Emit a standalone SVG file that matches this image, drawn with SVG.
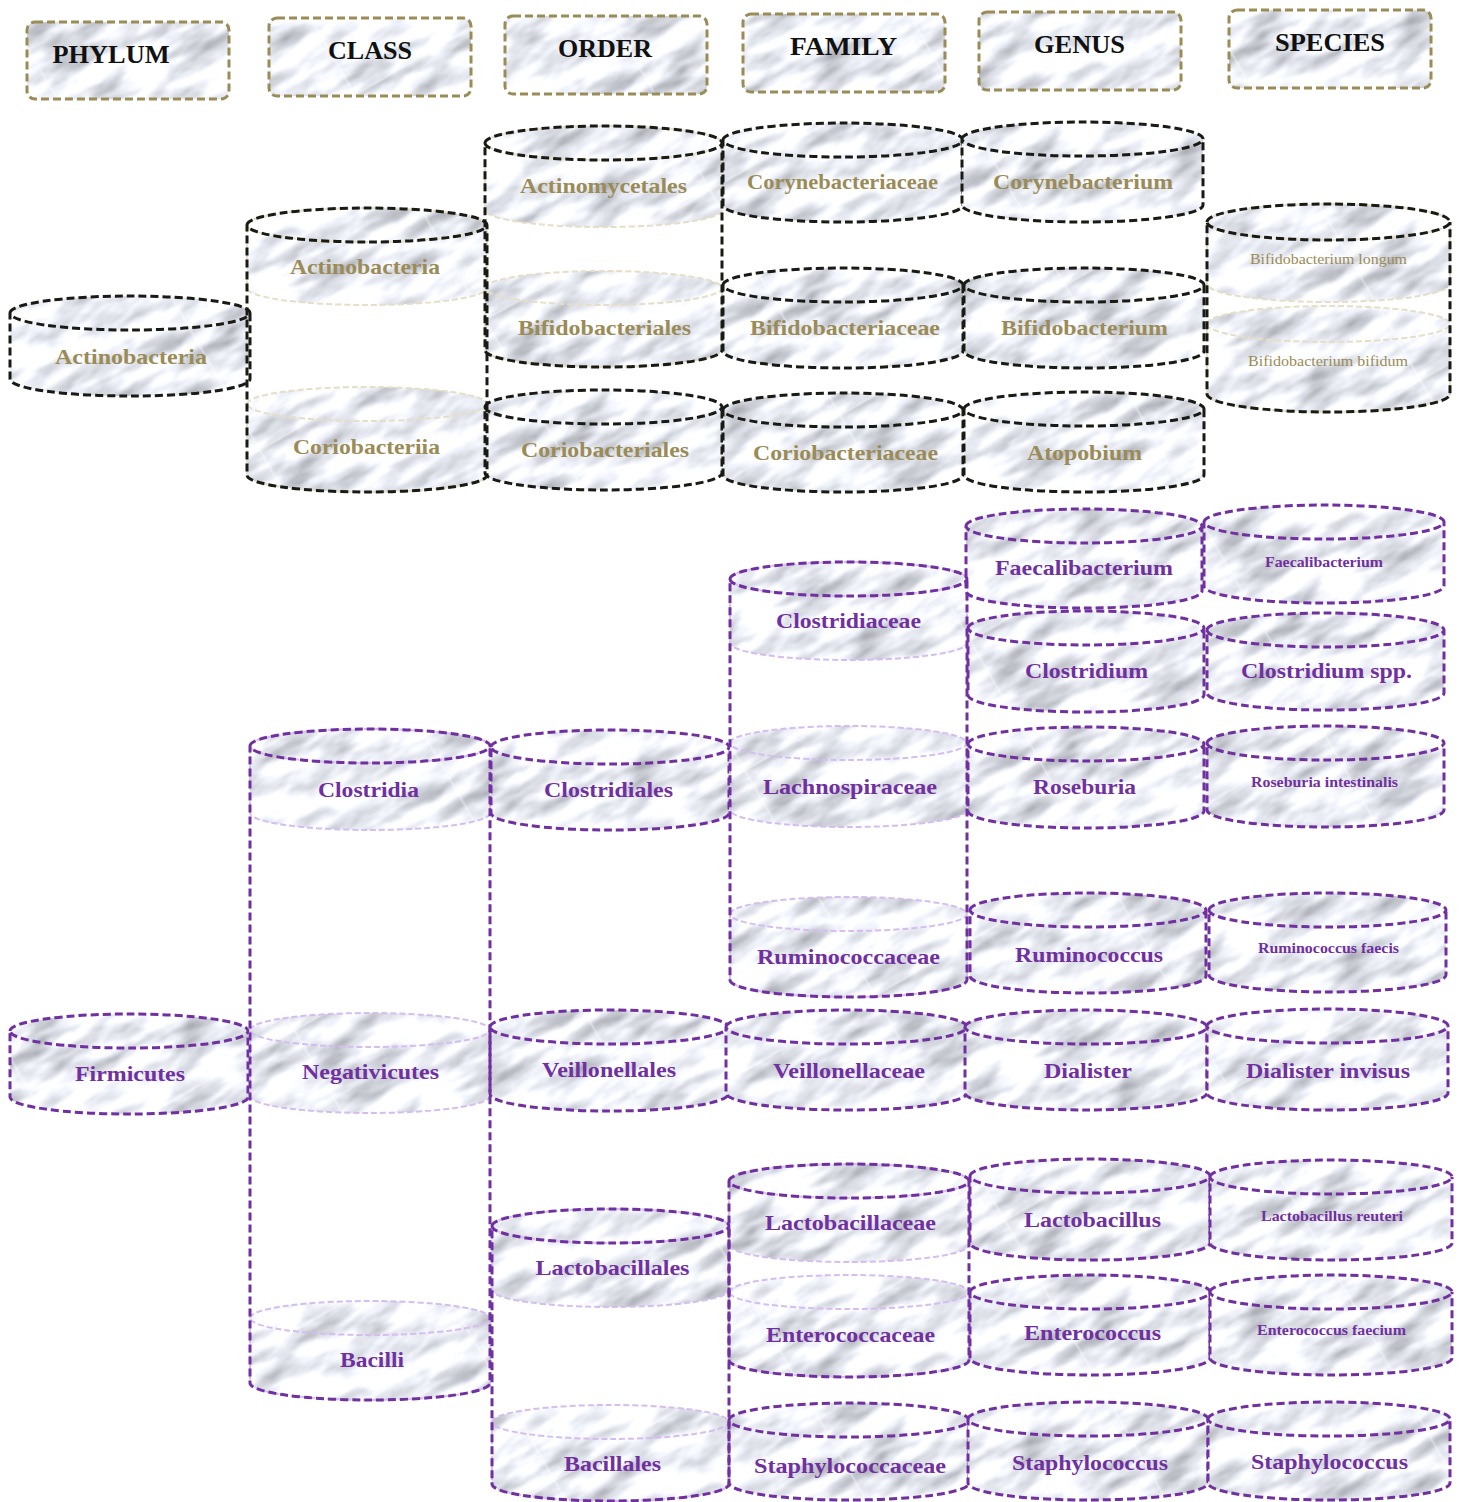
<svg xmlns="http://www.w3.org/2000/svg" width="1460" height="1502" viewBox="0 0 1460 1502">
<defs>
<filter id="mtx" filterUnits="userSpaceOnUse" x="0" y="0" width="260" height="260" color-interpolation-filters="sRGB">
<feTurbulence type="fractalNoise" baseFrequency="0.015 0.05" numOctaves="4" seed="7" stitchTiles="stitch"/>
<feColorMatrix type="matrix" values="-0.85 0 0 0 1.36 -0.85 0 0 0 1.37 -0.85 0 0 0 1.40 0 0 0 0 1"/>
<feGaussianBlur stdDeviation="0.8"/>
</filter>
<pattern id="marble" patternUnits="userSpaceOnUse" width="260" height="260" patternTransform="rotate(-30)">
<rect width="260" height="260" fill="#e9eaed" filter="url(#mtx)"/>
</pattern>
<style>
.body{fill:url(#marble);stroke:none}
.dk{fill:none;stroke:#1a1a14;stroke-width:3;stroke-dasharray:8 4}
.lb{fill:none;stroke:#e6dec6;stroke-width:2;stroke-dasharray:6 3}
.dp{fill:none;stroke:#7030a0;stroke-width:3;stroke-dasharray:8 4}
.lp{fill:none;stroke:#d6bdf0;stroke-width:2;stroke-dasharray:6 3}
.hb{fill:url(#marble);stroke:#9a8c56;stroke-width:3;stroke-dasharray:8 4}
text{font-family:"Liberation Serif","Times New Roman",serif;text-anchor:middle;font-weight:bold}
.hd{fill:#111;font-size:26px}
.ol{fill:#9a8b57;font-size:22px}
.pu{fill:#7030a0;font-size:22px}
.ols{fill:#9a8b57;font-size:15px;font-weight:normal}
.pus{fill:#7030a0;font-size:15px}
</style>
</defs>
<rect width="1460" height="1502" fill="#fff"/>

<g id="headers">
<g id="h-phylum"><rect class="hb" x="27" y="22" width="202" height="77" rx="8"/><text class="hd" x="111" y="63" textLength="117" lengthAdjust="spacingAndGlyphs">PHYLUM</text></g>
<g id="h-class"><rect class="hb" x="269" y="18" width="202" height="78" rx="8"/><text class="hd" x="370" y="59" textLength="84" lengthAdjust="spacingAndGlyphs">CLASS</text></g>
<g id="h-order"><rect class="hb" x="505" y="16" width="202" height="78" rx="8"/><text class="hd" x="605" y="57" textLength="94" lengthAdjust="spacingAndGlyphs">ORDER</text></g>
<g id="h-family"><rect class="hb" x="743" y="14" width="202" height="78" rx="8"/><text class="hd" x="843.5" y="55" textLength="107" lengthAdjust="spacingAndGlyphs">FAMILY</text></g>
<g id="h-genus"><rect class="hb" x="979" y="12" width="202" height="78" rx="8"/><text class="hd" x="1079.5" y="53" textLength="91" lengthAdjust="spacingAndGlyphs">GENUS</text></g>
<g id="h-species"><rect class="hb" x="1229" y="10" width="202" height="78" rx="8"/><text class="hd" x="1330" y="51" textLength="110" lengthAdjust="spacingAndGlyphs">SPECIES</text></g>
</g>

<g id="nodes">
<!-- Actinobacteria branch -->
<g id="p-actinobacteria"><path class="body" d="M10 313A120 17 0 0 1 250 313V379A120 17 0 0 1 10 379Z"/><path class="dk" d="M10 313A120 17 0 0 1 250 313A120 17 0 0 1 10 313V379A120 17 0 0 0 250 379V313"/><text class="ol" x="131" y="364" textLength="152" lengthAdjust="spacingAndGlyphs">Actinobacteria</text></g>
<g id="c-actinobacteria"><path class="body" d="M247 225A120 17 0 0 1 487 225V288A120 17 0 0 1 247 288Z"/><path class="lb" d="M247 225A120 17 0 0 1 487 225A120 17 0 0 1 247 225V288A120 17 0 0 0 487 288V225"/><text class="ol" x="365" y="274" textLength="150" lengthAdjust="spacingAndGlyphs">Actinobacteria</text></g>
<g id="c-coriobacteriia"><path class="body" d="M247 404A120 17 0 0 1 487 404V475A120 17 0 0 1 247 475Z"/><path class="lb" d="M247 404A120 17 0 0 1 487 404A120 17 0 0 1 247 404V475A120 17 0 0 0 487 475V404"/><text class="ol" x="366.5" y="454" textLength="147" lengthAdjust="spacingAndGlyphs">Coriobacteriia</text></g>
<g id="o-actinomycetales"><path class="body" d="M485 143A118.5 17 0 0 1 722 143V210A118.5 17 0 0 1 485 210Z"/><path class="lb" d="M485 143A118.5 17 0 0 1 722 143A118.5 17 0 0 1 485 143V210A118.5 17 0 0 0 722 210V143"/><text class="ol" x="603.5" y="193" textLength="167" lengthAdjust="spacingAndGlyphs">Actinomycetales</text></g>
<g id="o-bifidobacteriales"><path class="body" d="M485 288A118.5 17 0 0 1 722 288V350A118.5 17 0 0 1 485 350Z"/><path class="lb" d="M485 288A118.5 17 0 0 1 722 288A118.5 17 0 0 1 485 288V350A118.5 17 0 0 0 722 350V288"/><text class="ol" x="604.5" y="335" textLength="173" lengthAdjust="spacingAndGlyphs">Bifidobacteriales</text></g>
<g id="o-coriobacteriales"><path class="body" d="M485 407A118.5 17 0 0 1 722 407V473A118.5 17 0 0 1 485 473Z"/><path class="dk" d="M485 407A118.5 17 0 0 1 722 407A118.5 17 0 0 1 485 407V473A118.5 17 0 0 0 722 473V407"/><text class="ol" x="605" y="457" textLength="168" lengthAdjust="spacingAndGlyphs">Coriobacteriales</text></g>
<g id="f-corynebacteriaceae"><path class="body" d="M723 140A120 17 0 0 1 963 140V205A120 17 0 0 1 723 205Z"/><path class="dk" d="M723 140A120 17 0 0 1 963 140A120 17 0 0 1 723 140V205A120 17 0 0 0 963 205V140"/><text class="ol" x="842.5" y="189" textLength="191" lengthAdjust="spacingAndGlyphs">Corynebacteriaceae</text></g>
<g id="f-bifidobacteriaceae"><path class="body" d="M723 285A120 17 0 0 1 963 285V351A120 17 0 0 1 723 351Z"/><path class="dk" d="M723 285A120 17 0 0 1 963 285A120 17 0 0 1 723 285V351A120 17 0 0 0 963 351V285"/><text class="ol" x="845" y="335" textLength="190" lengthAdjust="spacingAndGlyphs">Bifidobacteriaceae</text></g>
<g id="f-coriobacteriaceae"><path class="body" d="M723 410A120 17 0 0 1 963 410V475A120 17 0 0 1 723 475Z"/><path class="dk" d="M723 410A120 17 0 0 1 963 410A120 17 0 0 1 723 410V475A120 17 0 0 0 963 475V410"/><text class="ol" x="845.5" y="460" textLength="185" lengthAdjust="spacingAndGlyphs">Coriobacteriaceae</text></g>
<g id="g-corynebacterium"><path class="body" d="M962 139A120.5 17 0 0 1 1203 139V205A120.5 17 0 0 1 962 205Z"/><path class="dk" d="M962 139A120.5 17 0 0 1 1203 139A120.5 17 0 0 1 962 139V205A120.5 17 0 0 0 1203 205V139"/><text class="ol" x="1083" y="189" textLength="180" lengthAdjust="spacingAndGlyphs">Corynebacterium</text></g>
<g id="g-bifidobacterium"><path class="body" d="M964 285A120 17 0 0 1 1204 285V351A120 17 0 0 1 964 351Z"/><path class="dk" d="M964 285A120 17 0 0 1 1204 285A120 17 0 0 1 964 285V351A120 17 0 0 0 1204 351V285"/><text class="ol" x="1084.5" y="335" textLength="167" lengthAdjust="spacingAndGlyphs">Bifidobacterium</text></g>
<g id="g-atopobium"><path class="body" d="M964 409A120 17 0 0 1 1204 409V475A120 17 0 0 1 964 475Z"/><path class="dk" d="M964 409A120 17 0 0 1 1204 409A120 17 0 0 1 964 409V475A120 17 0 0 0 1204 475V409"/><text class="ol" x="1084.5" y="460" textLength="115" lengthAdjust="spacingAndGlyphs">Atopobium</text></g>
<g id="s-bifidobacterium-longum"><path class="body" d="M1207 222A121.5 18 0 0 1 1450 222V284A121.5 18 0 0 1 1207 284Z"/><path class="lb" d="M1207 222A121.5 18 0 0 1 1450 222A121.5 18 0 0 1 1207 222V284A121.5 18 0 0 0 1450 284V222"/><text class="ols" x="1328.5" y="264" textLength="157" lengthAdjust="spacingAndGlyphs">Bifidobacterium longum</text></g>
<g id="s-bifidobacterium-bifidum"><path class="body" d="M1207 324A121.5 18 0 0 1 1450 324V394A121.5 18 0 0 1 1207 394Z"/><path class="lb" d="M1207 324A121.5 18 0 0 1 1450 324A121.5 18 0 0 1 1207 324V394A121.5 18 0 0 0 1450 394V324"/><text class="ols" x="1328" y="366" textLength="160" lengthAdjust="spacingAndGlyphs">Bifidobacterium bifidum</text></g>

<!-- Firmicutes branch -->
<g id="p-firmicutes"><path class="body" d="M10 1031A119 17 0 0 1 248 1031V1097A119 17 0 0 1 10 1097Z"/><path class="dp" d="M10 1031A119 17 0 0 1 248 1031A119 17 0 0 1 10 1031V1097A119 17 0 0 0 248 1097V1031"/><text class="pu" x="130" y="1081" textLength="110" lengthAdjust="spacingAndGlyphs">Firmicutes</text></g>
<g id="c-clostridia"><path class="body" d="M250 746A120 17 0 0 1 490 746V813A120 17 0 0 1 250 813Z"/><path class="lp" d="M250 746A120 17 0 0 1 490 746A120 17 0 0 1 250 746V813A120 17 0 0 0 490 813V746"/><text class="pu" x="368.5" y="797" textLength="101" lengthAdjust="spacingAndGlyphs">Clostridia</text></g>
<g id="c-negativicutes"><path class="body" d="M250 1030A120 17 0 0 1 490 1030V1096A120 17 0 0 1 250 1096Z"/><path class="lp" d="M250 1030A120 17 0 0 1 490 1030A120 17 0 0 1 250 1030V1096A120 17 0 0 0 490 1096V1030"/><text class="pu" x="370.5" y="1079" textLength="137" lengthAdjust="spacingAndGlyphs">Negativicutes</text></g>
<g id="c-bacilli"><path class="body" d="M250 1318A120 17 0 0 1 490 1318V1383A120 17 0 0 1 250 1383Z"/><path class="lp" d="M250 1318A120 17 0 0 1 490 1318A120 17 0 0 1 250 1318V1383A120 17 0 0 0 490 1383V1318"/><text class="pu" x="372" y="1367" textLength="64" lengthAdjust="spacingAndGlyphs">Bacilli</text></g>
<g id="o-clostridiales"><path class="body" d="M491 747A119 17 0 0 1 729 747V813A119 17 0 0 1 491 813Z"/><path class="dp" d="M491 747A119 17 0 0 1 729 747A119 17 0 0 1 491 747V813A119 17 0 0 0 729 813V747"/><text class="pu" x="608.5" y="797" textLength="129" lengthAdjust="spacingAndGlyphs">Clostridiales</text></g>
<g id="o-veillonellales"><path class="body" d="M490 1027A119 17 0 0 1 728 1027V1094A119 17 0 0 1 490 1094Z"/><path class="dp" d="M490 1027A119 17 0 0 1 728 1027A119 17 0 0 1 490 1027V1094A119 17 0 0 0 728 1094V1027"/><text class="pu" x="609" y="1077" textLength="134" lengthAdjust="spacingAndGlyphs">Veillonellales</text></g>
<g id="o-lactobacillales"><path class="body" d="M492 1226A118.5 17 0 0 1 729 1226V1290A118.5 17 0 0 1 492 1290Z"/><path class="lp" d="M492 1226A118.5 17 0 0 1 729 1226A118.5 17 0 0 1 492 1226V1290A118.5 17 0 0 0 729 1290V1226"/><text class="pu" x="612.5" y="1275" textLength="154" lengthAdjust="spacingAndGlyphs">Lactobacillales</text></g>
<g id="o-bacillales"><path class="body" d="M492 1422A118.5 17 0 0 1 729 1422V1484A118.5 17 0 0 1 492 1484Z"/><path class="lp" d="M492 1422A118.5 17 0 0 1 729 1422A118.5 17 0 0 1 492 1422V1484A118.5 17 0 0 0 729 1484V1422"/><text class="pu" x="612.5" y="1471" textLength="97" lengthAdjust="spacingAndGlyphs">Bacillales</text></g>
<g id="f-clostridiaceae"><path class="body" d="M730 579A118.5 17 0 0 1 967 579V643A118.5 17 0 0 1 730 643Z"/><path class="lp" d="M730 579A118.5 17 0 0 1 967 579A118.5 17 0 0 1 730 579V643A118.5 17 0 0 0 967 643V579"/><text class="pu" x="848.5" y="628" textLength="145" lengthAdjust="spacingAndGlyphs">Clostridiaceae</text></g>
<g id="f-lachnospiraceae"><path class="body" d="M730 743A118.5 17 0 0 1 967 743V810A118.5 17 0 0 1 730 810Z"/><path class="lp" d="M730 743A118.5 17 0 0 1 967 743A118.5 17 0 0 1 730 743V810A118.5 17 0 0 0 967 810V743"/><text class="pu" x="850" y="794" textLength="174" lengthAdjust="spacingAndGlyphs">Lachnospiraceae</text></g>
<g id="f-ruminococcaceae"><path class="body" d="M730 914A118.5 17 0 0 1 967 914V980A118.5 17 0 0 1 730 980Z"/><path class="lp" d="M730 914A118.5 17 0 0 1 967 914A118.5 17 0 0 1 730 914V980A118.5 17 0 0 0 967 980V914"/><text class="pu" x="848.5" y="964" textLength="183" lengthAdjust="spacingAndGlyphs">Ruminococcaceae</text></g>
<g id="f-veillonellaceae"><path class="body" d="M726 1027A120.5 17 0 0 1 967 1027V1093A120.5 17 0 0 1 726 1093Z"/><path class="dp" d="M726 1027A120.5 17 0 0 1 967 1027A120.5 17 0 0 1 726 1027V1093A120.5 17 0 0 0 967 1093V1027"/><text class="pu" x="849" y="1078" textLength="152" lengthAdjust="spacingAndGlyphs">Veillonellaceae</text></g>
<g id="f-lactobacillaceae"><path class="body" d="M729 1181A120 17 0 0 1 969 1181V1245A120 17 0 0 1 729 1245Z"/><path class="lp" d="M729 1181A120 17 0 0 1 969 1181A120 17 0 0 1 729 1181V1245A120 17 0 0 0 969 1245V1181"/><text class="pu" x="850.5" y="1230" textLength="171" lengthAdjust="spacingAndGlyphs">Lactobacillaceae</text></g>
<g id="f-enterococcaceae"><path class="body" d="M729 1292A120 17 0 0 1 969 1292V1360A120 17 0 0 1 729 1360Z"/><path class="lp" d="M729 1292A120 17 0 0 1 969 1292A120 17 0 0 1 729 1292V1360A120 17 0 0 0 969 1360V1292"/><text class="pu" x="850.5" y="1342" textLength="169" lengthAdjust="spacingAndGlyphs">Enterococcaceae</text></g>
<g id="f-staphylococcaceae"><path class="body" d="M729 1420A120 17 0 0 1 969 1420V1483A120 17 0 0 1 729 1483Z"/><path class="dp" d="M729 1420A120 17 0 0 1 969 1420A120 17 0 0 1 729 1420V1483A120 17 0 0 0 969 1483V1420"/><text class="pu" x="850" y="1473" textLength="192" lengthAdjust="spacingAndGlyphs">Staphylococcaceae</text></g>
<g id="g-faecalibacterium"><path class="body" d="M966 526A118 17 0 0 1 1202 526V591A118 17 0 0 1 966 591Z"/><path class="dp" d="M966 526A118 17 0 0 1 1202 526A118 17 0 0 1 966 526V591A118 17 0 0 0 1202 591V526"/><text class="pu" x="1084" y="575" textLength="178" lengthAdjust="spacingAndGlyphs">Faecalibacterium</text></g>
<g id="g-clostridium"><path class="body" d="M968 628A118 17 0 0 1 1204 628V695A118 17 0 0 1 968 695Z"/><path class="dp" d="M968 628A118 17 0 0 1 1204 628A118 17 0 0 1 968 628V695A118 17 0 0 0 1204 695V628"/><text class="pu" x="1086.5" y="678" textLength="123" lengthAdjust="spacingAndGlyphs">Clostridium</text></g>
<g id="g-roseburia"><path class="body" d="M968 744A118 17 0 0 1 1204 744V811A118 17 0 0 1 968 811Z"/><path class="dp" d="M968 744A118 17 0 0 1 1204 744A118 17 0 0 1 968 744V811A118 17 0 0 0 1204 811V744"/><text class="pu" x="1084.5" y="794" textLength="103" lengthAdjust="spacingAndGlyphs">Roseburia</text></g>
<g id="g-ruminococcus"><path class="body" d="M970 910A118 17 0 0 1 1206 910V976A118 17 0 0 1 970 976Z"/><path class="dp" d="M970 910A118 17 0 0 1 1206 910A118 17 0 0 1 970 910V976A118 17 0 0 0 1206 976V910"/><text class="pu" x="1089" y="962" textLength="148" lengthAdjust="spacingAndGlyphs">Ruminococcus</text></g>
<g id="g-dialister"><path class="body" d="M965 1027A121 17 0 0 1 1207 1027V1093A121 17 0 0 1 965 1093Z"/><path class="dp" d="M965 1027A121 17 0 0 1 1207 1027A121 17 0 0 1 965 1027V1093A121 17 0 0 0 1207 1093V1027"/><text class="pu" x="1088" y="1078" textLength="88" lengthAdjust="spacingAndGlyphs">Dialister</text></g>
<g id="g-lactobacillus"><path class="body" d="M970 1176A120 17 0 0 1 1210 1176V1243A120 17 0 0 1 970 1243Z"/><path class="dp" d="M970 1176A120 17 0 0 1 1210 1176A120 17 0 0 1 970 1176V1243A120 17 0 0 0 1210 1243V1176"/><text class="pu" x="1092.5" y="1227" textLength="137" lengthAdjust="spacingAndGlyphs">Lactobacillus</text></g>
<g id="g-enterococcus"><path class="body" d="M970 1292A120 17 0 0 1 1210 1292V1358A120 17 0 0 1 970 1358Z"/><path class="dp" d="M970 1292A120 17 0 0 1 1210 1292A120 17 0 0 1 970 1292V1358A120 17 0 0 0 1210 1358V1292"/><text class="pu" x="1092.5" y="1340" textLength="137" lengthAdjust="spacingAndGlyphs">Enterococcus</text></g>
<g id="g-staphylococcus"><path class="body" d="M968 1419A120 17 0 0 1 1208 1419V1483A120 17 0 0 1 968 1483Z"/><path class="dp" d="M968 1419A120 17 0 0 1 1208 1419A120 17 0 0 1 968 1419V1483A120 17 0 0 0 1208 1483V1419"/><text class="pu" x="1090" y="1470" textLength="156" lengthAdjust="spacingAndGlyphs">Staphylococcus</text></g>
<g id="s-faecalibacterium"><path class="body" d="M1204 522A120 17 0 0 1 1444 522V586A120 17 0 0 1 1204 586Z"/><path class="dp" d="M1204 522A120 17 0 0 1 1444 522A120 17 0 0 1 1204 522V586A120 17 0 0 0 1444 586V522"/><text class="pus" x="1324" y="567" textLength="118" lengthAdjust="spacingAndGlyphs">Faecalibacterium</text></g>
<g id="s-clostridium-spp"><path class="body" d="M1207 630A118.5 17 0 0 1 1444 630V693A118.5 17 0 0 1 1207 693Z"/><path class="dp" d="M1207 630A118.5 17 0 0 1 1444 630A118.5 17 0 0 1 1207 630V693A118.5 17 0 0 0 1444 693V630"/><text class="pu" x="1326.5" y="678" textLength="171" lengthAdjust="spacingAndGlyphs">Clostridium spp.</text></g>
<g id="s-roseburia-intestinalis"><path class="body" d="M1207 743A118.5 17 0 0 1 1444 743V810A118.5 17 0 0 1 1207 810Z"/><path class="dp" d="M1207 743A118.5 17 0 0 1 1444 743A118.5 17 0 0 1 1207 743V810A118.5 17 0 0 0 1444 810V743"/><text class="pus" x="1324.5" y="787" textLength="147" lengthAdjust="spacingAndGlyphs">Roseburia intestinalis</text></g>
<g id="s-ruminococcus-faecis"><path class="body" d="M1209 910A118.5 17 0 0 1 1446 910V975A118.5 17 0 0 1 1209 975Z"/><path class="dp" d="M1209 910A118.5 17 0 0 1 1446 910A118.5 17 0 0 1 1209 910V975A118.5 17 0 0 0 1446 975V910"/><text class="pus" x="1328.5" y="953" textLength="141" lengthAdjust="spacingAndGlyphs">Ruminococcus faecis</text></g>
<g id="s-dialister-invisus"><path class="body" d="M1207 1026A120.5 17 0 0 1 1448 1026V1093A120.5 17 0 0 1 1207 1093Z"/><path class="dp" d="M1207 1026A120.5 17 0 0 1 1448 1026A120.5 17 0 0 1 1207 1026V1093A120.5 17 0 0 0 1448 1093V1026"/><text class="pu" x="1328" y="1078" textLength="164" lengthAdjust="spacingAndGlyphs">Dialister invisus</text></g>
<g id="s-lactobacillus-reuteri"><path class="body" d="M1210 1177A121 17 0 0 1 1452 1177V1243A121 17 0 0 1 1210 1243Z"/><path class="dp" d="M1210 1177A121 17 0 0 1 1452 1177A121 17 0 0 1 1210 1177V1243A121 17 0 0 0 1452 1243V1177"/><text class="pus" x="1332" y="1221" textLength="142" lengthAdjust="spacingAndGlyphs">Lactobacillus reuteri</text></g>
<g id="s-enterococcus-faecium"><path class="body" d="M1210 1292A121 17 0 0 1 1452 1292V1358A121 17 0 0 1 1210 1358Z"/><path class="dp" d="M1210 1292A121 17 0 0 1 1452 1292A121 17 0 0 1 1210 1292V1358A121 17 0 0 0 1452 1358V1292"/><text class="pus" x="1331.5" y="1335" textLength="149" lengthAdjust="spacingAndGlyphs">Enterococcus faecium</text></g>
<g id="s-staphylococcus"><path class="body" d="M1208 1419A121 17 0 0 1 1450 1419V1483A121 17 0 0 1 1208 1483Z"/><path class="dp" d="M1208 1419A121 17 0 0 1 1450 1419A121 17 0 0 1 1208 1419V1483A121 17 0 0 0 1450 1483V1419"/><text class="pu" x="1329.5" y="1469" textLength="157" lengthAdjust="spacingAndGlyphs">Staphylococcus</text></g>
</g>

<g id="connectors">
<path class="dk" d="M247 225A120 17 0 0 1 487 225A120 17 0 0 1 247 225V475A120 17 0 0 0 487 475V225"/>
<path class="dk" d="M485 143A118.5 17 0 0 1 722 143A118.5 17 0 0 1 485 143V350A118.5 17 0 0 0 722 350V143"/>
<path class="dk" d="M1207 222A121.5 18 0 0 1 1450 222A121.5 18 0 0 1 1207 222V394A121.5 18 0 0 0 1450 394V222"/>
<path class="dp" d="M250 746A120 17 0 0 1 490 746A120 17 0 0 1 250 746V1383A120 17 0 0 0 490 1383V746"/>
<path class="dp" d="M492 1226A118.5 17 0 0 1 729 1226A118.5 17 0 0 1 492 1226V1484A118.5 17 0 0 0 729 1484V1226"/>
<path class="dp" d="M730 579A118.5 17 0 0 1 967 579A118.5 17 0 0 1 730 579V980A118.5 17 0 0 0 967 980V579"/>
<path class="dp" d="M729 1181A120 17 0 0 1 969 1181A120 17 0 0 1 729 1181V1360A120 17 0 0 0 969 1360V1181"/>
</g>
</svg>
